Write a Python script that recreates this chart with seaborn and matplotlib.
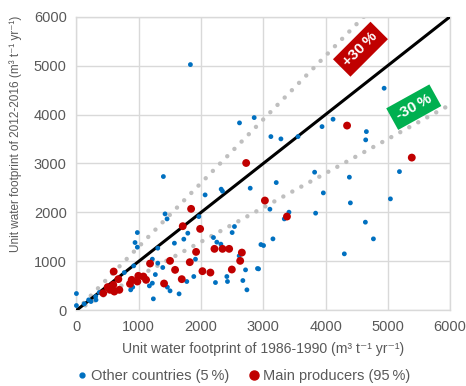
import pandas as pd
import seaborn as sns
import matplotlib.pyplot as plt

# Unit water footprint, 1986-1990 (x) vs 2012-2016 (y), m3 t-1 yr-1
other_x = [1830, 2618, 2854, 3122, 3283, 3557, 3943, 4120, 4940, 4655, 4644,
           5186, 5041, 4639, 4768, 3824, 4382, 3208, 3964, 4398, 3106, 3412,
           3337, 3840, 3155, 4301, 2790, 2962, 3004, 2924, 1396, 2066, 2324,
           2345, 1423, 1455, 1965, 978, 941, 978, 1306, 1573, 1724, 1788,
           2200, 2254, 2319, 2500, 2537, 1219, 1306, 1386, 1267, 1219, 1171,
           920, 769, 871, 904, 1235, 1503, 1460, 1648, 1772, 1884, 1911,
           2613, 2232, 2415, 2425, 2715, 2672, 2737, 2907, 0, 0, 125, 196,
           233, 309, 314, 367]
other_y = [5020, 3829, 3937, 3549, 3502, 3549, 3753, 3904, 4537, 3651, 3482,
           2834, 2277, 1801, 1460, 2822, 2720, 2610, 2399, 2195, 2066, 2005,
           1868, 1985, 1460, 1154, 2495, 1344, 1324, 847, 2733, 2358, 2475,
           2434, 1970, 1868, 1915, 1589, 1385, 1290, 1270, 1372, 1454, 1576,
           1487, 1393, 1352, 1589, 1712, 1045, 964, 875, 731, 555, 500,
           909, 772, 419, 474, 235, 398, 474, 337, 589, 691, 1045,
           1113, 568, 691, 589, 827, 609, 419, 854, 343, 98, 133, 214,
           180, 282, 214, 364]

main_x = [2725, 1841, 1707, 1986, 1921, 2216, 2345, 2452, 2656, 2629, 1503,
          1182, 1820, 1584, 2023, 2151, 2495, 1691, 1407, 598, 673, 431, 539,
          501, 592, 689, 860, 887, 994, 1075, 1118, 978, 4345, 3026, 3380,
          5384, 608]
main_y = [3010, 2073, 1719, 1664, 1194, 1256, 1256, 1256, 1180, 1011, 1011,
          956, 984, 827, 800, 772, 834, 637, 548, 793, 637, 351, 419,
          474, 521, 419, 541, 623, 705, 691, 623, 589, 3774, 2243, 1916,
          3120, 384]

other_label = "Other countries (5\u2009%)"
main_label = "Main producers (95\u2009%)"

df = pd.DataFrame({
    "x": other_x + main_x,
    "y": other_y + main_y,
    "group": [other_label] * len(other_x) + [main_label] * len(main_x),
})

sns.set_style("white")
plt.rcParams["font.family"] = ["Liberation Sans", "DejaVu Sans"]

fig = plt.figure(figsize=(4.66, 3.86), dpi=100)
ax = fig.add_axes([0.164, 0.196, 0.802, 0.761])

grid_c = "#D9D9D9"
text_c = "#595959"

# reference lines: 1:1 and +/-30 %
lim = [0, 6000]
ax.plot(lim, lim, color="black", lw=2.2, zorder=3)
ax.plot([0, 6000 / 1.3], [0, 6000], color="#BFBFBF", lw=3.2,
        linestyle=(0, (0.01, 2.3)), dash_capstyle="round", zorder=2)
ax.plot([0, 6000], [0, 6000 * 0.7], color="#BFBFBF", lw=3.2,
        linestyle=(0, (0.01, 2.3)), dash_capstyle="round", zorder=2)

sns.scatterplot(data=df, x="x", y="y", hue="group", size="group",
                sizes={other_label: 12, main_label: 32},
                palette={other_label: "#0070C0", main_label: "#C00000"},
                linewidth=0, ax=ax, legend=False, zorder=4, clip_on=False)

ax.set_xlim(0, 6000)
ax.set_ylim(0, 6000)
ax.set_xticks(range(0, 6001, 1000))
ax.set_yticks(range(0, 6001, 1000))
ax.grid(True, color=grid_c, lw=1)
ax.set_axisbelow(True)
for s in ax.spines.values():
    s.set_color(grid_c)
    s.set_linewidth(1)
ax.tick_params(length=0, labelsize=10.5, labelcolor=text_c, pad=7)

ax.set_xlabel("Unit water footprint of 1986-1990 (m\u00b3 t\u207b\u00b9 yr\u207b\u00b9)",
              fontsize=10.1, color=text_c, labelpad=6)
ax.set_ylabel("Unit water footprint of 2012-2016 (m\u00b3 t\u207b\u00b9 yr\u207b\u00b9)",
              fontsize=8.5, color=text_c)
ax.yaxis.set_label_coords(-0.145, 0.6)

# +30 % / -30 % tags
ax.text(4560, 5334, "+30\u2009%", rotation=45, ha="center", va="center",
        color="white", fontsize=11, fontweight="bold",
        bbox=dict(boxstyle="square,pad=0.35", fc="#C00000", ec="none"), zorder=5)
ax.text(5416, 4150, "-30\u2009%", rotation=29, ha="center", va="center",
        color="white", fontsize=11, fontweight="bold",
        bbox=dict(boxstyle="square,pad=0.35", fc="#00B050", ec="none"), zorder=5)

handles = [
    plt.Line2D([], [], marker="o", ls="", color="#0070C0", markersize=3.5, label=other_label),
    plt.Line2D([], [], marker="o", ls="", color="#C00000", markersize=6.5, label=main_label),
]
fig.legend(handles=handles, loc="center", bbox_to_anchor=(0.52, 0.026), ncol=2,
           frameon=False, fontsize=10.5, labelcolor=text_c, handletextpad=0.1,
           columnspacing=1.2, handlelength=1.0)

fig.savefig("out.png", dpi=100)
